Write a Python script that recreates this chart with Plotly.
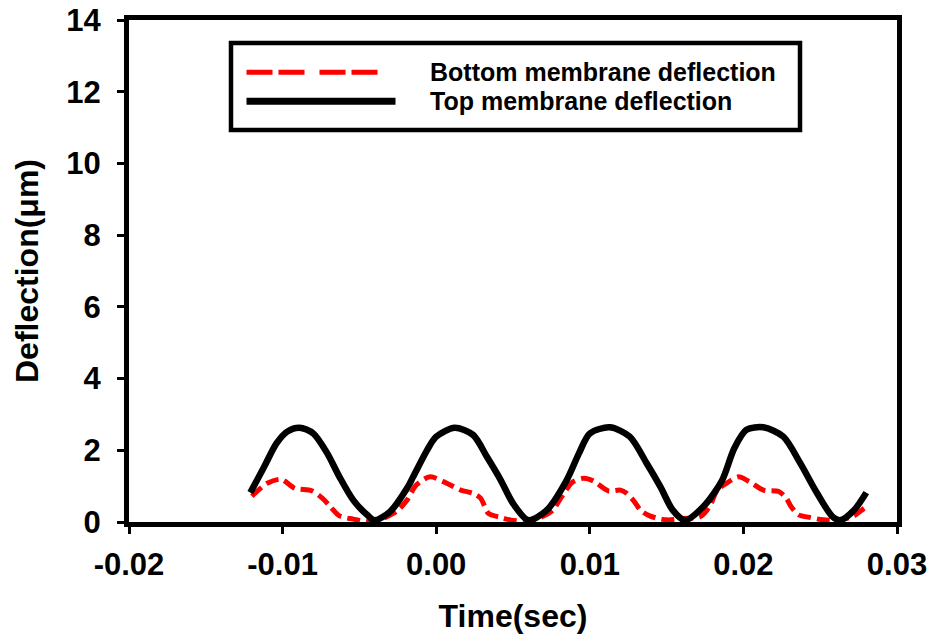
import plotly.graph_objects as go

# ---- data ----
time_top = [-0.0121, -0.0112, -0.0104, -0.0097, -0.0089, -0.0080, -0.0071, -0.0063, -0.0054,
            -0.0045, -0.0040, -0.0030, -0.0019, -0.0015, -0.0006, 0.0000, 0.0012, 0.0024,
            0.0033, 0.0042, 0.0050, 0.0060, 0.0072, 0.0085, 0.0093, 0.0100, 0.0113, 0.0126,
            0.0137, 0.0146, 0.0154, 0.0162, 0.0174, 0.0186, 0.0194, 0.0202, 0.0213, 0.0226,
            0.0237, 0.0248, 0.0258, 0.0263, 0.0272, 0.0280]
top_deflection = [0.82, 1.54, 2.19, 2.52, 2.63, 2.47, 1.92, 1.26, 0.61,
                  0.20, 0.05, 0.29, 0.94, 1.26, 2.00, 2.38, 2.63, 2.43,
                  1.82, 1.17, 0.52, 0.05, 0.33, 1.17, 1.92, 2.47, 2.64, 2.38,
                  1.64, 0.98, 0.33, 0.05, 0.43, 1.15, 2.05, 2.57, 2.64, 2.38,
                  1.64, 0.80, 0.15, 0.05, 0.33, 0.82]

time_bottom = [-0.0120, -0.0110, -0.0101, -0.0092, -0.0081, -0.0074, -0.0069, -0.0063, -0.0054,
               -0.0045, -0.0037, -0.0026, -0.0019, -0.0013, -0.0004, 0.0005, 0.0016, 0.0024,
               0.0029, 0.0034, 0.0042, 0.0048, 0.0057, 0.0068, 0.0076, 0.0081, 0.0089, 0.0096,
               0.0102, 0.0112, 0.0120, 0.0124, 0.0129, 0.0133, 0.0139, 0.0150, 0.0161, 0.0172,
               0.0178, 0.0183, 0.0189, 0.0197, 0.0204, 0.0213, 0.0223, 0.0228, 0.0231, 0.0236,
               0.0243, 0.0252, 0.0263, 0.0272, 0.0277, 0.0280]
bottom_deflection = [0.72, 1.08, 1.19, 0.94, 0.87, 0.66, 0.43, 0.17, 0.08,
                     0.01, 0.06, 0.29, 0.61, 1.03, 1.26, 1.12, 0.89, 0.80,
                     0.66, 0.24, 0.13, 0.06, 0.03, 0.13, 0.33, 0.66, 1.12, 1.22,
                     1.15, 0.87, 0.89, 0.80, 0.57, 0.33, 0.17, 0.06, 0.10, 0.15,
                     0.43, 0.89, 1.08, 1.26, 1.12, 0.89, 0.85, 0.66, 0.43, 0.20,
                     0.13, 0.06, 0.06, 0.17, 0.33, 0.42]

series_names = ["Bottom membrane deflection", "Top membrane deflection"]
x_ticks = [-0.02, -0.01, 0.00, 0.01, 0.02, 0.03]
x_tick_labels = ["-0.02", "-0.01", "0.00", "0.01", "0.02", "0.03"]
y_ticks = [0, 2, 4, 6, 8, 10, 12, 14]

FONT = "Liberation Sans, Arial, sans-serif"

fig = go.Figure()
fig.add_trace(go.Scatter(
    x=time_bottom, y=bottom_deflection, mode="lines", name=series_names[0],
    line=dict(color="#ff0000", width=5, dash="13px,6px", shape="spline", smoothing=0.8),
    showlegend=False))
fig.add_trace(go.Scatter(
    x=time_top, y=top_deflection, mode="lines", name=series_names[1],
    line=dict(color="#000000", width=6.5, shape="spline", smoothing=0.8),
    showlegend=False))

axis_common = dict(
    showgrid=False, zeroline=False, showline=True, linecolor="black", linewidth=5,
    mirror=True, ticks="outside", ticklen=7, tickwidth=3, tickcolor="black",
    tickfont=dict(family=FONT, size=31, color="black", weight="bold"),
    ticklabeloverflow="allow",
)

fig.update_xaxes(
    range=[-0.02, 0.03], tickvals=x_ticks, ticktext=x_tick_labels,
    title=dict(text="Time(sec)", font=dict(family=FONT, size=32, color="black", weight="bold"),
               standoff=25),
    ticklabelstandoff=4,
    **axis_common)
fig.update_yaxes(
    range=[0, 14], tickvals=y_ticks,
    title=dict(text="Deflection(μm)", font=dict(family=FONT, size=32, color="black", weight="bold"),
               standoff=20),
    ticklabelstandoff=10,
    **axis_common)

# ---- legend drawn inside the plot (paper coordinates) ----
shapes = [
    dict(type="rect", xref="paper", yref="paper", x0=0.1328, x1=0.8737, y0=0.781, y1=0.954,
         line=dict(color="black", width=4.5), fillcolor="white", layer="above"),
    dict(type="line", xref="paper", yref="paper", x0=0.153, x1=0.333, y0=0.896, y1=0.896,
         line=dict(color="#ff0000", width=5, dash="26px,6px,26px,15px"), layer="above"),
    dict(type="line", xref="paper", yref="paper", x0=0.153, x1=0.347, y0=0.838, y1=0.838,
         line=dict(color="black", width=7), layer="above"),
]
annotations = [
    dict(xref="paper", yref="paper", x=0.389, y=0.896, text=series_names[0], showarrow=False,
         xanchor="left", yanchor="middle",
         font=dict(family=FONT, size=25, color="black", weight="bold")),
    dict(xref="paper", yref="paper", x=0.389, y=0.838, text=series_names[1], showarrow=False,
         xanchor="left", yanchor="middle",
         font=dict(family=FONT, size=25, color="black", weight="bold")),
]

# The page adds an 8px body margin, so the figure is sized to fit the window.
fig.update_layout(
    width=927, height=633,
    margin=dict(l=121, r=38, t=12, b=119, autoexpand=False),
    plot_bgcolor="white", paper_bgcolor="white",
    shapes=shapes, annotations=annotations,
    font=dict(family=FONT, color="black"),
)

fig.write_html("out.html")
